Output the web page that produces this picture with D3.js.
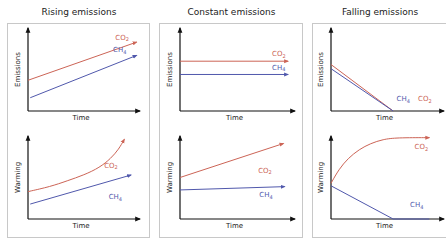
<!DOCTYPE html>
<html>
<head>
<meta charset="utf-8">
<script src="https://cdn.jsdelivr.net/npm/d3@7"></script>
<style>
  body { margin: 0; background: #fff; }
  text { font-family: "DejaVu Sans", sans-serif; fill: #222; }
</style>
</head>
<body>
<div id="chart"></div>
<script>
// titles of the three columns
const titles = ["Rising emissions", "Constant emissions", "Falling emissions"];
const rowLabels = ["Emissions", "Warming"];
const timeLabel = "Time";

// series as [time, value], both on a 0..10 scale
const risingEmCO2 = [[0, 3.7], [9.7, 8.3]];
const risingEmCH4 = [[0.2, 1.6], [9.7, 6.7]];
const risingWarmCO2 = [[0, 3.3], [2, 3.9], [3.5, 4.6], [5, 5.3], [6.4, 6.2], [7.4, 7.3], [8.1, 8.4], [8.6, 9.6]];
const risingWarmCH4 = [[0.2, 1.8], [9.2, 5.3]];

const constEmCO2 = [[0, 6.0], [9.4, 6.0]];
const constEmCH4 = [[0, 4.4], [9.4, 4.4]];
const constWarmCO2 = [[0, 5.0], [9.0, 9.1]];
const constWarmCH4 = [[0, 3.5], [9.1, 3.9]];

const fallEmCO2 = [[0, 5.6], [5.5, 0]];
const fallEmCH4 = [[0, 5.1], [5.5, 0]];
const fallWarmCO2 = [[0, 4.3], [0.7, 6.0], [1.5, 7.3], [2.5, 8.4], [3.5, 9.1], [4.6, 9.6], [5.8, 9.8], [8.7, 9.8]];
const fallWarmCH4 = [[0, 4.0], [5.5, 0], [8.7, 0]];

// label positions [time, value] for each series
const seriesDefs = [
  [ {data: risingEmCO2, gas: "CO2", lab: [7.8, 8.6]}, {data: risingEmCH4, gas: "CH4", lab: [7.6, 7.1]},
    {data: risingWarmCO2, gas: "CO2", lab: [6.8, 6.2], curve: true}, {data: risingWarmCH4, gas: "CH4", lab: [7.2, 2.4]} ],
  [ {data: constEmCO2, gas: "CO2", lab: [8.0, 6.6]}, {data: constEmCH4, gas: "CH4", lab: [8.0, 5.0]},
    {data: constWarmCO2, gas: "CO2", lab: [6.8, 5.6]}, {data: constWarmCH4, gas: "CH4", lab: [6.9, 2.6]} ],
  [ {data: fallEmCO2, gas: "CO2", lab: [7.7, 1.2], arrow: false}, {data: fallEmCH4, gas: "CH4", lab: [5.8, 1.2], arrow: false},
    {data: fallWarmCO2, gas: "CO2", lab: [7.4, 8.4], curve: true}, {data: fallWarmCH4, gas: "CH4", lab: [7.0, 1.4], arrow: false} ]
];

const colors = {CO2: "#cc6456", CH4: "#5058ac"};

const width = 446, height = 241;
const svg = d3.select("#chart").append("svg")
  .attr("width", width)
  .attr("height", height);

const defs = svg.append("defs");
function marker(id, color, size) {
  defs.append("marker")
    .attr("id", id)
    .attr("viewBox", "0 -5 10 10")
    .attr("refX", 8)
    .attr("markerUnits", "userSpaceOnUse")
    .attr("markerWidth", size)
    .attr("markerHeight", size)
    .attr("orient", "auto")
    .append("path")
    .attr("d", "M0,-4L10,0L0,4Z")
    .attr("fill", color);
}
marker("ax", "#111", 6);
marker("mCO2", colors.CO2, 5);
marker("mCH4", colors.CH4, 5);

// column geometry
const boxX = [7, 159, 312];
const boxW = [142, 143, 134];
const axX = [28, 180, 331];
const axW = [112, 115, 113];
const rows = [{top: 28, bottom: 111}, {top: 136, bottom: 219}];

const line = d3.line();

titles.forEach((title, c) => {
  const g = svg.append("g");
  g.append("rect")
    .attr("x", boxX[c] + 0.5).attr("y", 23.5)
    .attr("width", boxW[c]).attr("height", 214)
    .attr("fill", "none").attr("stroke", "#c8c8c8").attr("stroke-width", 1);
  g.append("text")
    .attr("x", boxX[c] + boxW[c] / 2 + 1).attr("y", 15)
    .attr("text-anchor", "middle").attr("font-size", 9)
    .text(title);

  rows.forEach((r, ri) => {
    const x = d3.scaleLinear().domain([0, 10]).range([axX[c], axX[c] + axW[c]]);
    const y = d3.scaleLinear().domain([0, 10]).range([r.bottom, r.top]);

    // axes drawn as arrows
    g.append("path")
      .attr("d", line([[x(0), y(0)], [x(0), y(10)]]))
      .attr("stroke", "#111").attr("stroke-width", 1.2)
      .attr("marker-end", "url(#ax)");
    g.append("path")
      .attr("d", line([[x(0), y(0)], [x(10), y(0)]]))
      .attr("stroke", "#111").attr("stroke-width", 1.2)
      .attr("marker-end", "url(#ax)");

    g.append("text")
      .attr("transform", `translate(${x(0) - 8},${(r.top + r.bottom) / 2}) rotate(-90)`)
      .attr("text-anchor", "middle").attr("font-size", 7)
      .text(rowLabels[ri]);
    g.append("text")
      .attr("x", x(5) - 3).attr("y", r.bottom + 9)
      .attr("text-anchor", "middle").attr("font-size", 7)
      .text(timeLabel);

    seriesDefs[c].slice(ri * 2, ri * 2 + 2).forEach(s => {
      const ln = d3.line()
        .x(d => x(d[0])).y(d => y(d[1]))
        .curve(s.curve ? d3.curveBasis : d3.curveLinear);
      g.append("path")
        .attr("d", ln(s.data))
        .attr("fill", "none")
        .attr("stroke", colors[s.gas])
        .attr("stroke-width", 1)
        .attr("marker-end", s.arrow === false ? null : `url(#m${s.gas})`);
      const t = g.append("text")
        .attr("x", x(s.lab[0])).attr("y", y(s.lab[1]))
        .attr("font-size", 7)
        .style("fill", colors[s.gas]);
      t.append("tspan").text(s.gas.slice(0, 2));
      t.append("tspan").attr("font-size", 5).attr("dy", 1.5).text(s.gas.slice(2));
    });
  });
});
</script>
</body>
</html>
